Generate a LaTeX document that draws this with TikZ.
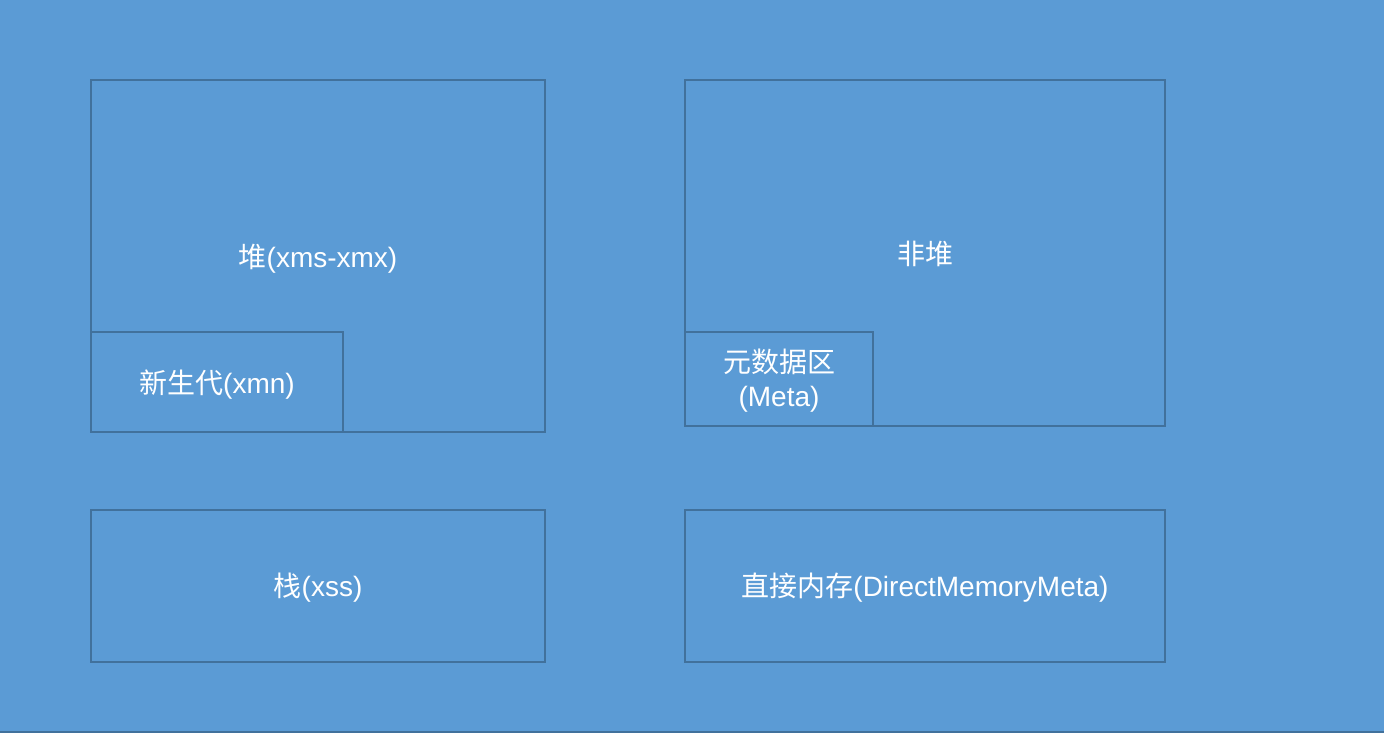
\documentclass[tikz,border=0pt]{standalone}
\usepackage{fontspec}
\setmainfont{Liberation Sans}
\newfontfamily\cjk{Noto Sans CJK SC}
\definecolor{bg}{HTML}{5B9BD5}
\definecolor{edge}{HTML}{41719C}
\begin{document}
\begin{tikzpicture}[x=1pt,y=-1pt,
  area/.style={draw=edge,line width=2pt},
  lbl/.style={text=white,font=\fontsize{28}{34}\selectfont,inner sep=0pt,align=center}]
\useasboundingbox (0,0) rectangle (1384,734);
\fill[white] (0,0) rectangle (1384,734);
\fill[bg] (0,0) rectangle (1384,732);
\draw[edge,line width=2pt] (0,732) -- (1384,732);
\draw[area] (91,80) rectangle (545,432);
\draw[area] (91,332) rectangle (343,432);
\draw[area] (685,80) rectangle (1165,426);
\draw[area] (685,332) rectangle (873,426);
\draw[area] (91,510) rectangle (545,662);
\draw[area] (685,510) rectangle (1165,662);
\node[lbl] (heap) at (318,259) {{\cjk 堆}(xms-xmx)};
\node[lbl] (nonheap) at (925,254) {\cjk 非堆};
\node[lbl] (young) at (217,385) {{\cjk 新生代}(xmn)};
\node[lbl] (meta1) at (779,362) {\cjk 元数据区};
\node[lbl] (meta2) at (779,399) {(Meta)};
\node[lbl] (stack) at (318,588) {{\cjk 栈}(xss)};
\node[lbl] (direct) at (925,588) {{\cjk 直接内存}(DirectMemoryMeta)};
\end{tikzpicture}
\end{document}
